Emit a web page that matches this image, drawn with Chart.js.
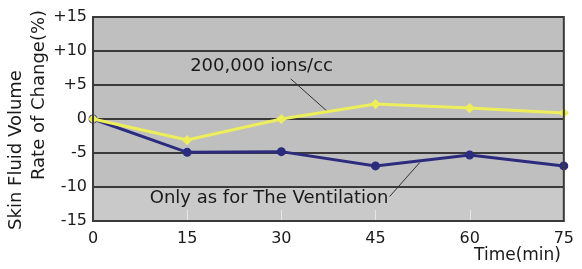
<!DOCTYPE html>
<html>
<head>
<meta charset="utf-8">
<script src="https://cdn.jsdelivr.net/npm/chart.js@4/dist/chart.umd.min.js"></script>
<style>
html,body{margin:0;padding:0;background:#fff;}
#wrap{width:582px;height:269px;position:relative;}
</style>
</head>
<body>
<div id="wrap"><canvas id="c" width="582" height="269"></canvas></div>
<script>
const categories = ['0', '15', '30', '45', '60', '75'];
const ionsSeries = [0, -3.1, 0, 2.2, 1.6, 0.9];
const ventilationSeries = [0, -4.9, -4.8, -6.9, -5.3, -6.9];
const yTickLabels = {'-15':'-15','-10':'-10','-5':'-5','0':'0','5':'+5','10':'+10','15':'+15'};
const yTitleLines = ['Skin Fluid Volume', 'Rate of Change(%)'];
const xTitle = 'Time(min)';
const ionsLabel = '200,000 ions/cc';
const ventLabel = 'Only as for The Ventilation';

const FONT = '"DejaVu Sans", sans-serif';

const decor = {
  id: 'decor',
  beforeDatasetsDraw(chart) {
    const {ctx, chartArea: a} = chart;
    const x = chart.scales.x, y = chart.scales.y;
    ctx.save();
    // lighter band behind the ventilation label
    ctx.fillStyle = '#c9c9c9';
    ctx.fillRect(a.left + 1, y.getPixelForValue(-10) + 1, a.right - a.left - 2, a.bottom - y.getPixelForValue(-10) - 2);
    // inner bottom tick marks
    ctx.strokeStyle = '#e6e6e6';
    ctx.lineWidth = 1;
    for (let i = 1; i < categories.length - 1; i++) {
      const px = Math.round(x.getPixelForValue(i)) + 0.5;
      ctx.beginPath();
      ctx.moveTo(px, a.bottom - 1);
      ctx.lineTo(px, a.bottom - 11);
      ctx.stroke();
    }
    // annotations
    ctx.fillStyle = '#1a1a1a';
    ctx.font = '18px ' + FONT;
    ctx.textAlign = 'center';
    ctx.textBaseline = 'middle';
    ctx.fillText(ionsLabel, x.getPixelForValue(1.79), y.getPixelForValue(7.7));
    ctx.fillText(ventLabel, x.getPixelForValue(1.87), y.getPixelForValue(-11.6));
    ctx.strokeStyle = '#333';
    ctx.lineWidth = 1;
    ctx.beginPath();
    ctx.moveTo(x.getPixelForValue(2.1), y.getPixelForValue(5.9));
    ctx.lineTo(x.getPixelForValue(2.49), y.getPixelForValue(1.1));
    ctx.moveTo(x.getPixelForValue(3.15), y.getPixelForValue(-11.4));
    ctx.lineTo(x.getPixelForValue(3.47), y.getPixelForValue(-6.4));
    ctx.stroke();
    ctx.restore();
  },
  afterDraw(chart) {
    const {ctx, chartArea: a} = chart;
    ctx.save();
    ctx.strokeStyle = '#3a3a3a';
    ctx.lineWidth = 2;
    ctx.strokeRect(a.left, a.top, a.right - a.left, a.bottom - a.top);
    // y title
    ctx.fillStyle = '#1a1a1a';
    ctx.font = '18px ' + FONT;
    ctx.textAlign = 'center';
    ctx.textBaseline = 'middle';
    ctx.save();
    ctx.translate(16, 150);
    ctx.rotate(-Math.PI / 2);
    ctx.fillText(yTitleLines[0], 0, 0);
    ctx.restore();
    ctx.save();
    ctx.translate(39, 95);
    ctx.rotate(-Math.PI / 2);
    ctx.fillText(yTitleLines[1], 0, 0);
    ctx.restore();
    // x title
    ctx.font = '17px ' + FONT;
    ctx.textAlign = 'right';
    ctx.fillText(xTitle, 561, 256);
    ctx.restore();
  }
};

const plotBg = {
  id: 'plotBg',
  beforeDraw(chart) {
    const {ctx, chartArea: a} = chart;
    ctx.save();
    ctx.fillStyle = '#bfbfbf';
    ctx.fillRect(a.left, a.top, a.right - a.left, a.bottom - a.top);
    ctx.restore();
  }
};

new Chart(document.getElementById('c'), {
  type: 'line',
  data: {
    labels: categories,
    datasets: [
      {
        label: ionsLabel,
        data: ionsSeries,
        borderColor: '#eeee5a',
        backgroundColor: '#eeee5a',
        borderWidth: 3,
        pointRadius: 3,
        pointStyle: 'rectRot',
        tension: 0
      },
      {
        label: ventLabel,
        data: ventilationSeries,
        borderColor: '#2c2c7e',
        backgroundColor: '#2c2c7e',
        borderWidth: 3,
        pointRadius: 3,
        pointStyle: 'circle',
        tension: 0
      }
    ]
  },
  options: {
    responsive: false,
    animation: false,
    devicePixelRatio: 1,
    layout: { padding: { left: 0, right: 15, top: 17, bottom: 0 } },
    plugins: { legend: { display: false }, tooltip: { enabled: false } },
    scales: {
      x: {
        offset: false,
        grid: { display: false, drawTicks: false },
        border: { display: false },
        ticks: { color: '#1a1a1a', font: { family: FONT, size: 16 }, padding: 8, maxRotation: 0, autoSkip: false },
        afterFit(s) { s.height = 48; }
      },
      y: {
        min: -15, max: 15,
        grid: { color: '#3a3a3a', lineWidth: 2, drawTicks: false },
        border: { display: false },
        ticks: {
          stepSize: 5,
          color: '#1a1a1a',
          font: { family: FONT, size: 16 },
          padding: 6,
          callback: v => yTickLabels[String(v)]
        },
        afterFit(s) { s.width = 93; }
      }
    }
  },
  plugins: [plotBg, decor]
});
</script>
</body>
</html>
